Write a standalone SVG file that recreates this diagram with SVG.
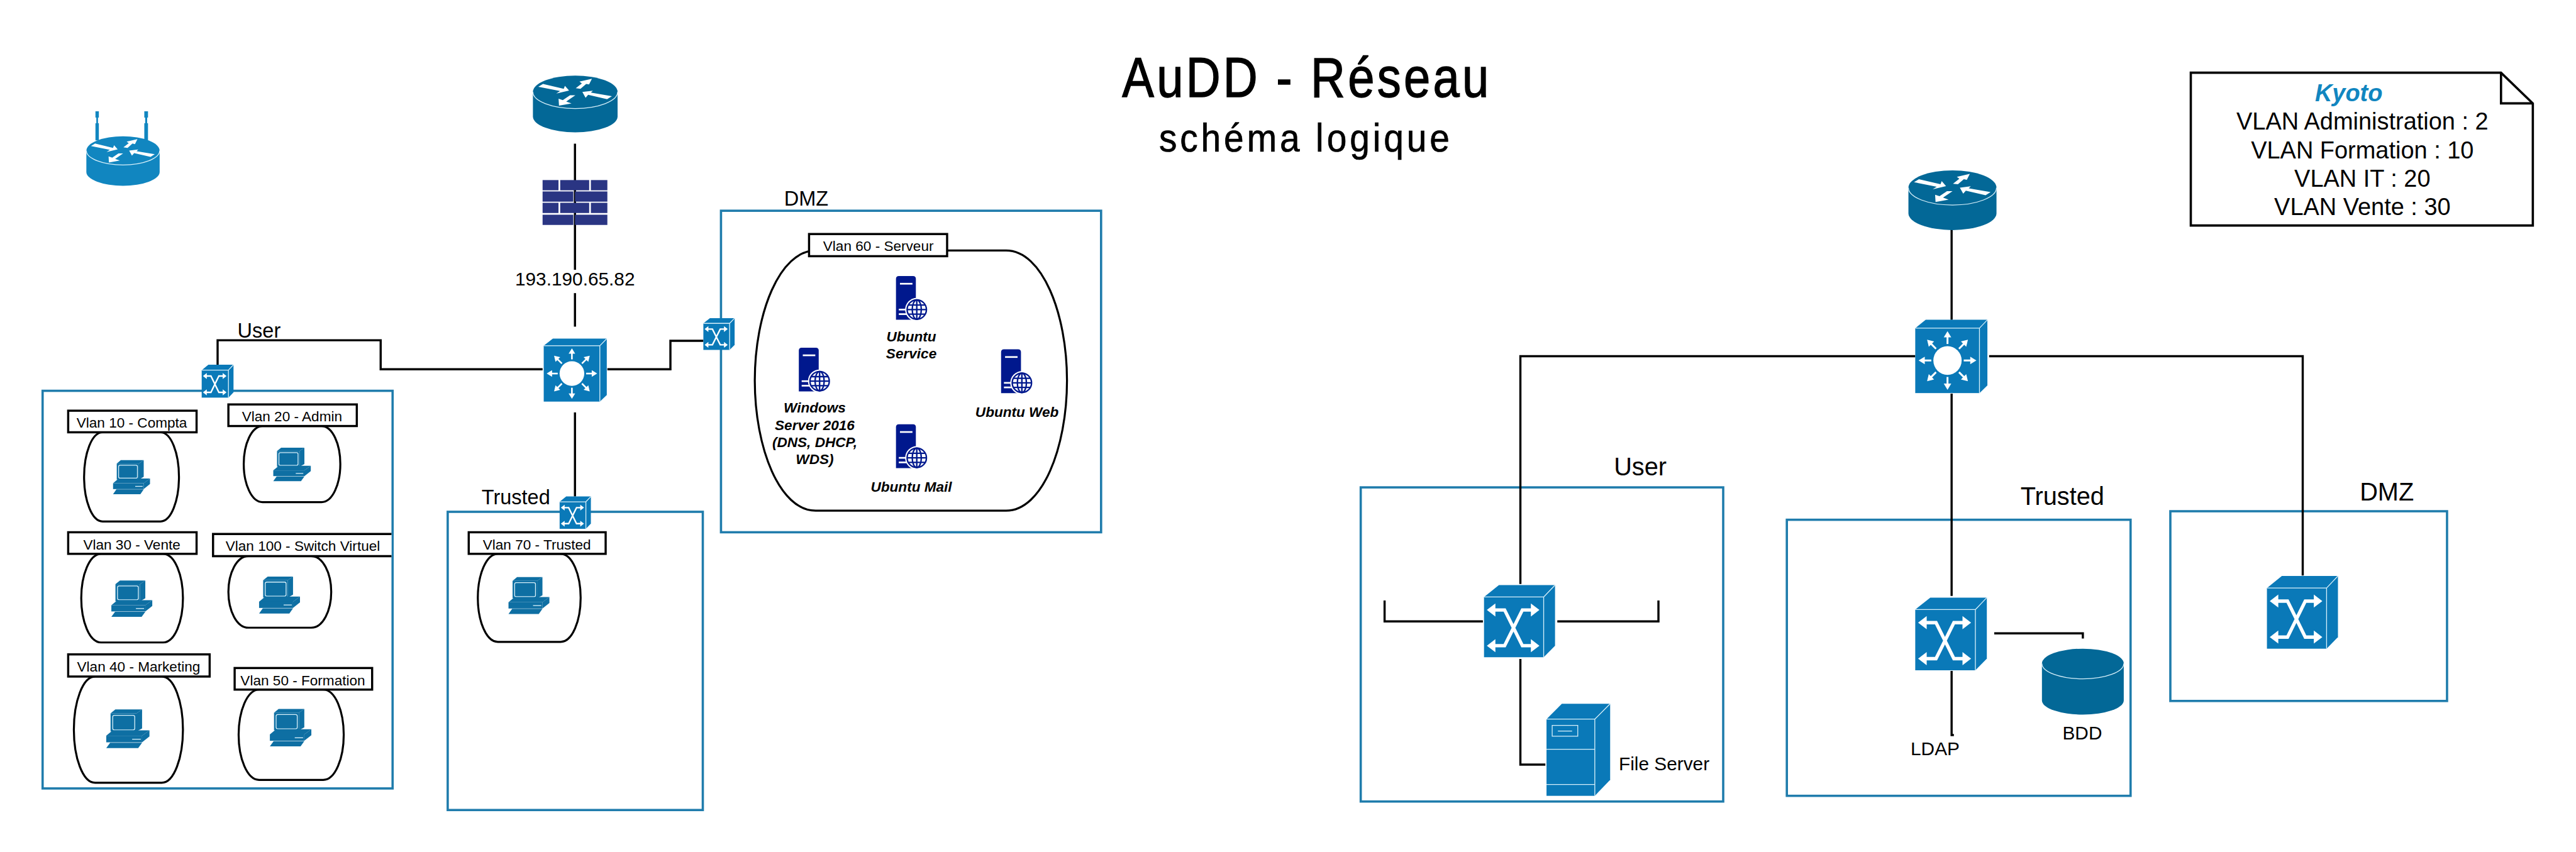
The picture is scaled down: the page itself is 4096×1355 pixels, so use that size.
<svg xmlns="http://www.w3.org/2000/svg" xmlns:xlink="http://www.w3.org/1999/xlink" width="4096" height="1355" viewBox="0 0 4096 1355">
<style>
text{font-family:"Liberation Sans",Arial,sans-serif;fill:#000}
.zone{fill:none;stroke:#1f7cac;stroke-width:4}
.line{fill:none;stroke:#000;stroke-width:3.8}
.lab{fill:#fff;stroke:#000;stroke-width:3.8}
.blob{fill:#fff;stroke:#000;stroke-width:3.2;vector-effect:non-scaling-stroke}
.vl{font-size:25px;text-anchor:middle}
.srv{font-size:25px;font-weight:bold;font-style:italic;text-anchor:middle}
.t33{font-size:33px;text-anchor:middle}
.t36{font-size:36px;text-anchor:middle}
.t44{font-size:44px;text-anchor:middle}
.note{font-size:42px;text-anchor:middle}
.lt{fill:none;stroke:#d8f0fa;stroke-width:1.3;vector-effect:non-scaling-stroke}
.w{fill:#fff}
.sw{fill:#0a79b8}
.nv{fill:#00188d}
.ttl{stroke:#000;stroke-width:1.6}
</style>
<defs>
<path id="blob" class="blob" d="M19.5 0H80.5C92 0 100 24 100 50C100 76 92 100 80.5 100H19.5C8 100 0 76 0 50C0 24 8 0 19.5 0Z"/>
<g id="router">
<path d="M0 29A50 29 0 0 1 100 29V72A50 28 0 0 1 0 72Z"/>
<path class="lt" d="M0 29A50 29 0 0 0 100 29"/>
<polygon class="w" points="6.3,19.7 11.9,14.7 36.4,23.3 37.8,18 42.7,26.3 27.6,31.7 32.1,27.3"/>
<polygon class="w" points="50.6,22.3 57.8,14 55,10.7 69.7,5.7 66.3,15.7 62.9,14.7 56.2,23.3"/>
<polygon class="w" points="43.8,34.7 50.1,34.7 39.3,45.7 45.6,49 30.8,53 30.3,40.7 35.3,43.3"/>
<polygon class="w" points="58.4,29 70.8,26.7 68.5,30 93.3,36.3 87.6,41.7 65.2,34 62.2,39"/>
</g>
<g id="switch">
<polygon class="sw" points="0,16.5 21,0 100,0 84,16.5"/>
<polygon class="sw" points="84,16.5 100,0 100,84 84,100"/>
<rect class="sw" x="0" y="16.5" width="84" height="83.5"/>
<path class="lt" d="M0 16.5H84V100M84 16.5L100 0"/>
<path fill="none" stroke="#fff" stroke-width="4.7" d="M14 34.5H29L54 84H69M69 34.5H54L29 84H14"/>
<polygon class="w" points="4,34.5 16,25.5 16,43.5"/>
<polygon class="w" points="78,34.5 66,25.5 66,43.5"/>
<polygon class="w" points="4,84 16,75 16,93"/>
<polygon class="w" points="78,84 66,75 66,93"/>
</g>
<g id="ar"><path fill="none" stroke="#fff" stroke-width="2.6" d="M44.7 33V22"/><polygon class="w" points="44.7,15.5 39.5,24 49.9,24"/></g>
<g id="core">
<polygon class="sw" points="0,11.4 14.5,0 100,0 89,11.4"/>
<polygon class="sw" points="89,11.4 100,0 100,89.5 89,100"/>
<rect class="sw" x="0" y="11.4" width="89" height="88.6"/>
<path class="lt" d="M0 11.4H89V100M89 11.4L100 0"/>
<circle class="w" cx="44.7" cy="55.5" r="19.6"/>
<use xlink:href="#ar" href="#ar"/>
<use xlink:href="#ar" href="#ar" transform="rotate(45 44.7 55.5)"/>
<use xlink:href="#ar" href="#ar" transform="rotate(90 44.7 55.5)"/>
<use xlink:href="#ar" href="#ar" transform="rotate(135 44.7 55.5)"/>
<use xlink:href="#ar" href="#ar" transform="rotate(180 44.7 55.5)"/>
<use xlink:href="#ar" href="#ar" transform="rotate(225 44.7 55.5)"/>
<use xlink:href="#ar" href="#ar" transform="rotate(270 44.7 55.5)"/>
<use xlink:href="#ar" href="#ar" transform="rotate(315 44.7 55.5)"/>
</g>
<g id="pc" fill="#0e6fa3">
<polygon points="10,10 21,0 83,0 70,10"/>
<polygon points="70,10 83,0 83,49 70,57"/>
<rect x="10" y="10" width="60" height="47"/>
<rect class="lt" x="15" y="15" width="51" height="38" rx="4"/>
<polygon points="0,68 15,54 100,54 83,68"/>
<polygon points="83,68 100,54 100,70 83,85"/>
<rect x="0" y="68" width="83" height="17"/>
<path class="lt" d="M60 77H80"/>
<polygon points="0,100 9,86 83,86 74,100"/>
</g>
<g id="server">
<path class="nv" d="M0 5Q0 0 5 0H30Q35 0 35 5V77H0Z"/>
<rect class="w" x="7" y="12" width="22" height="3"/>
<rect class="w" x="5" y="57.5" width="16" height="3"/>
<rect class="w" x="5" y="65.5" width="16" height="3"/>
<circle class="w" cx="36.6" cy="59" r="20.5"/>
<g fill="none" stroke="#00188d" stroke-width="2.6">
<circle cx="36.6" cy="59" r="17"/>
<ellipse cx="36.6" cy="59" rx="8" ry="17"/>
<path d="M36.6 42V76M19.6 59H53.6M22 51H51M22 67H51"/>
</g>
</g>
</defs>
<g transform="scale(0.9034)">
<g id="zones">
<rect class="zone" x="75" y="688" width="616" height="700"/>
<rect class="zone" x="788" y="901" width="449" height="525"/>
<rect class="zone" x="1269" y="371" width="669" height="566"/>
<rect class="zone" x="2395" y="858" width="638" height="553"/>
<rect class="zone" x="3145" y="915" width="605" height="486"/>
<rect class="zone" x="3820" y="900" width="487" height="334"/>
</g>
<g id="connectors">
<path class="line" d="M1012 253V575"/>
<path class="line" d="M1012 726V874"/>
<path class="line" d="M955 650H670V599H383V642"/>
<path class="line" d="M1069 650H1180V600H1238"/>
<path class="line" d="M3435 404V563"/>
<path class="line" d="M3435 693V1049"/>
<path class="line" d="M3371 627H2676V1028"/>
<path class="line" d="M3501 627H4053V1013"/>
<path class="line" d="M2610 1094H2437V1057"/>
<path class="line" d="M2741 1094H2919V1057"/>
<path class="line" d="M2676 1160V1346H2720"/>
<path class="line" d="M3435 1181V1294H3439"/>
<path class="line" d="M3510 1115H3666V1124"/>
</g>
<g id="title">
<text class="ttl" transform="translate(1975 170) scale(.85 1)" font-size="99" letter-spacing="5.5">AuDD - Réseau</text>
<text class="ttl" transform="translate(2040 267) scale(.9 1)" font-size="70" letter-spacing="6" style="stroke-width:.8">schéma logique</text>
</g>
<g id="wifi-router">
<path fill="#1186c0" d="M168 196h6v11h-1.5v10h1.5v30h-6v-30h1.5v-10h-1.5zM254 196h6.500v11h-1.500v10h1.500v30h-6.500v-30h1.500v-10h-1.500z"/>
<use xlink:href="#router" href="#router" fill="#1186c0" transform="translate(152 240) scale(1.29 .87)"/>
</g>
<g id="router-left"><use xlink:href="#router" href="#router" fill="#036897" transform="translate(938 133) scale(1.49 1)"/></g>
<g id="firewall" fill="#2a3583">
<rect x="955" y="317" width="28" height="18"/><rect x="986" y="317" width="51" height="18"/><rect x="1040" y="317" width="29" height="18"/>
<rect x="955" y="337" width="54" height="18"/><rect x="1012" y="337" width="57" height="18"/>
<rect x="955" y="357" width="28" height="18"/><rect x="986" y="357" width="51" height="18"/><rect x="1040" y="357" width="29" height="18"/>
<rect x="955" y="378" width="54" height="18"/><rect x="1012" y="378" width="57" height="18"/>
</g>
<g id="wan-ip">
<rect x="900" y="475" width="225" height="41" fill="#fff"/>
<text class="t33" x="1012" y="503">193.190.65.82</text>
</g>
<g id="core-left"><use xlink:href="#core" href="#core" transform="translate(957 596) scale(1.11)"/></g>
<g id="switch-user"><use xlink:href="#switch" href="#switch" transform="translate(355 642) scale(.56 .58)"/><text class="t36" x="456" y="594">User</text></g>
<g id="switch-dmz"><use xlink:href="#switch" href="#switch" transform="translate(1238 560) scale(.55 .56)"/></g>
<g id="switch-trusted"><use xlink:href="#switch" href="#switch" transform="translate(985 874) scale(.55 .57)"/><text class="t36" x="908" y="888">Trusted</text></g>
<g id="vlan10">
<use xlink:href="#blob" href="#blob" transform="translate(148 761) scale(1.67 1.57)"/>
<use xlink:href="#pc" href="#pc" transform="translate(199 810) scale(.65 .6)"/>
<rect class="lab" x="120" y="723" width="226" height="38"/><text class="vl" x="232" y="753">Vlan 10 - Compta</text>
</g>
<g id="vlan20">
<use xlink:href="#blob" href="#blob" transform="translate(429 750) scale(1.7 1.34)"/>
<use xlink:href="#pc" href="#pc" transform="translate(481 788) scale(.66 .59)"/>
<rect class="lab" x="402" y="712" width="226" height="38"/><text class="vl" x="514" y="742">Vlan 20 - Admin</text>
</g>
<g id="vlan30">
<use xlink:href="#blob" href="#blob" transform="translate(143 975) scale(1.79 1.56)"/>
<use xlink:href="#pc" href="#pc" transform="translate(196 1022) scale(.72 .64)"/>
<rect class="lab" x="120" y="937" width="226" height="38"/><text class="vl" x="232" y="967">Vlan 30 - Vente</text>
</g>
<g id="vlan100">
<use xlink:href="#blob" href="#blob" transform="translate(402 979) scale(1.81 1.26)"/>
<use xlink:href="#pc" href="#pc" transform="translate(456 1015) scale(.72 .65)"/>
<path class="lab" d="M689 940H375V979H689"/><text class="vl" x="533" y="970">Vlan 100 - Switch Virtuel</text>
</g>
<g id="vlan40">
<use xlink:href="#blob" href="#blob" transform="translate(130 1191) scale(1.92 1.87)"/>
<use xlink:href="#pc" href="#pc" transform="translate(187 1249) scale(.76 .68)"/>
<rect class="lab" x="120" y="1152" width="249" height="39"/><text class="vl" x="244" y="1182">Vlan 40 - Marketing</text>
</g>
<g id="vlan50">
<use xlink:href="#blob" href="#blob" transform="translate(420 1214) scale(1.85 1.59)"/>
<use xlink:href="#pc" href="#pc" transform="translate(475 1248) scale(.73 .66)"/>
<rect class="lab" x="413" y="1176" width="242" height="38"/><text class="vl" x="533" y="1206">Vlan 50 - Formation</text>
</g>
<g id="vlan70">
<use xlink:href="#blob" href="#blob" transform="translate(841 975) scale(1.81 1.55)"/>
<use xlink:href="#pc" href="#pc" transform="translate(895 1016) scale(.72 .65)"/>
<rect class="lab" x="825" y="937" width="241" height="38"/><text class="vl" x="945" y="967">Vlan 70 - Trusted</text>
</g>
<g id="dmz-left">
<text class="t36" x="1419" y="362">DMZ</text>
<use xlink:href="#blob" href="#blob" transform="translate(1328.500 441) scale(5.495 4.58)"/>
<rect class="lab" x="1424" y="412" width="243" height="39"/><text class="vl" x="1546" y="441.500">Vlan 60 - Serveur</text>
</g>
<g id="srv-service"><use xlink:href="#server" href="#server" x="1577" y="486"/><text class="srv" x="1604" y="601">Ubuntu</text><text class="srv" x="1604" y="631">Service</text></g>
<g id="srv-windows"><use xlink:href="#server" href="#server" x="1406" y="612"/><text class="srv" x="1434" y="726">Windows</text><text class="srv" x="1434" y="757">Server 2016</text><text class="srv" x="1434" y="787">(DNS, DHCP,</text><text class="srv" x="1434" y="817">WDS)</text></g>
<g id="srv-web"><use xlink:href="#server" href="#server" x="1762" y="615"/><text class="srv" x="1790" y="734">Ubuntu Web</text></g>
<g id="srv-mail"><use xlink:href="#server" href="#server" x="1577" y="747"/><text class="srv" x="1604" y="866">Ubuntu Mail</text></g>
<g id="router-right"><use xlink:href="#router" href="#router" fill="#036897" transform="translate(3359 300) scale(1.55 1.05)"/></g>
<g id="core-right"><use xlink:href="#core" href="#core" transform="translate(3371 563) scale(1.27 1.29)"/></g>
<g id="user-right"><text class="t44" x="2887" y="837">User</text><use xlink:href="#switch" href="#switch" transform="translate(2612 1030) scale(1.25 1.27)"/></g>
<g id="file-server">
<polygon fill="#0a79b8" points="2722,1266 2749,1239 2834,1239 2807,1266"/>
<polygon fill="#0a79b8" points="2807,1266 2834,1239 2834,1373 2807,1401"/>
<rect fill="#0a79b8" x="2722" y="1266" width="85" height="135"/>
<path class="lt" d="M2722 1266H2807V1401M2807 1266L2834 1239M2722 1319H2807M2722 1381H2807"/>
<rect class="lt" x="2732" y="1277" width="45" height="19"/>
<path class="lt" d="M2742 1287H2767"/>
<text class="t33" x="2929" y="1356">File Server</text>
</g>
<g id="trusted-right"><text class="t44" x="3630" y="889">Trusted</text><use xlink:href="#switch" href="#switch" transform="translate(3371 1052) scale(1.26 1.28)"/><text class="t33" x="3406" y="1329">LDAP</text></g>
<g id="bdd">
<path fill="#036897" d="M3594 1168A72 26 0 0 1 3738 1168V1233A72 25 0 0 1 3594 1233Z"/>
<path class="lt" d="M3594 1168A72 27 0 0 0 3738 1168"/>
<text class="t33" x="3665" y="1302">BDD</text>
</g>
<g id="dmz-right"><text class="t44" x="4201" y="881">DMZ</text><use xlink:href="#switch" href="#switch" transform="translate(3990 1014) scale(1.25 1.28)"/></g>
<g id="note-kyoto">
<path fill="#fff" stroke="#000" stroke-width="4" d="M3856 128H4402L4458 182V397H3856Z"/>
<path fill="none" stroke="#000" stroke-width="4" d="M4402 128V182H4458"/>
<text x="4134" y="178" font-size="42" font-weight="bold" font-style="italic" text-anchor="middle" style="fill:#1186c0">Kyoto</text>
<text class="note" x="4158" y="228">VLAN Administration : 2</text>
<text class="note" x="4158" y="279">VLAN Formation : 10</text>
<text class="note" x="4158" y="329">VLAN IT : 20</text>
<text class="note" x="4158" y="379">VLAN Vente : 30</text>
</g>
</g>
</svg>
